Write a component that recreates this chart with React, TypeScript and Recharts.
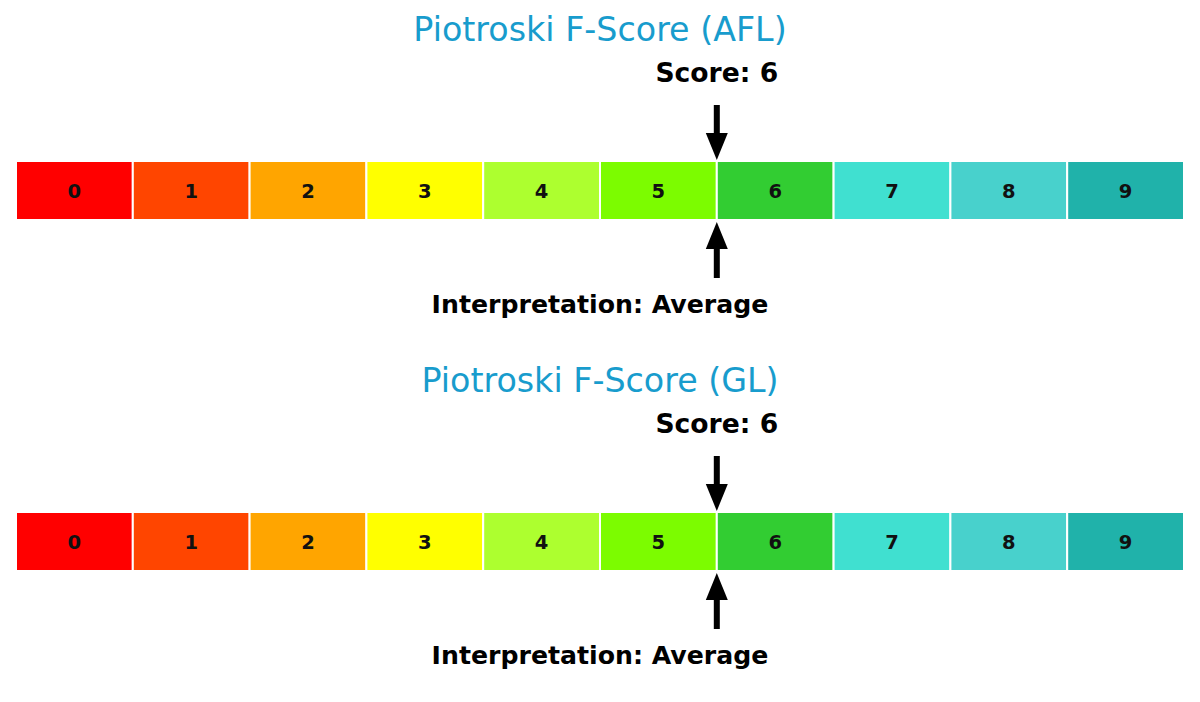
import React from 'react';
import { BarChart, Bar, XAxis, YAxis, ReferenceLine, LabelList } from 'recharts';

// --- Data ---
const scoreLabels = ['0', '1', '2', '3', '4', '5', '6', '7', '8', '9'];
const scoreColors = [
  '#FF0000', '#FF4500', '#FFA500', '#FFFF00', '#ADFF2F',
  '#7CFC00', '#32CD32', '#40E0D0', '#48D1CC', '#20B2AA',
];
const tickers = ['AFL', 'GL'];
const tickerScores = [6, 6];
const interpretations = ['Average', 'Average'];

const FONT = '"DejaVu Sans", Verdana, sans-serif';
const W = 1200;
const H = 351;

// one row, each cell one unit wide
const row = [scoreLabels.reduce((acc, _, i) => ({ ...acc, [`s${i}`]: 1 }), { name: 'F' } as Record<string, any>)];

// --- Cell label (digit centred in its block) ---
const CellLabel = (lbl: string) => (p: any) => {
  const { x, y, width, height } = p.viewBox || p;
  return (
    <text x={x + width / 2} y={y + height / 2} dy="0.36em" textAnchor="middle"
      fontFamily={FONT} fontSize={19.5} fontWeight="bold" fill="#111">
      {lbl}
    </text>
  );
};

// --- Marker: arrows + texts placed from the reference line ---
const Marker = ({ x1, y1, y2, ticker, score, interp }: any) => {
  const x = x1;
  const top = Math.min(y1, y2);
  const bot = Math.max(y1, y2);
  return (
    <g>
      <text x={W / 2} y={top - 120} textAnchor="middle" fontFamily={FONT} fontSize={33.3} fill="#189ccd">
        {`Piotroski F-Score (${ticker})`}
      </text>
      <text x={x} y={top - 79} textAnchor="middle" fontFamily={FONT} fontSize={26.6} fontWeight="bold" fill="#000">
        {`Score: ${score}`}
      </text>
      {/* down arrow */}
      <rect x={x - 3} y={top - 56} width={6} height={30} fill="#000" />
      <polygon points={`${x - 11},${top - 28} ${x + 11},${top - 28} ${x},${top - 1}`} fill="#000" />
      {/* up arrow */}
      <polygon points={`${x - 11},${bot + 29} ${x + 11},${bot + 29} ${x},${bot + 2}`} fill="#000" />
      <rect x={x - 3} y={bot + 27} width={6} height={31} fill="#000" />
      <text x={W / 2} y={bot + 93} textAnchor="middle" fontFamily={FONT} fontSize={25.2} fontWeight="bold" fill="#000">
        {`Interpretation: ${interp}`}
      </text>
    </g>
  );
};

const ScorePanel = ({ idx }: { idx: number }) => (
  <BarChart
    width={W}
    height={H}
    data={row}
    layout="vertical"
    margin={{ top: 161, right: 16, bottom: H - 220, left: 16 }}
    barCategoryGap={0}
  >
    <XAxis type="number" domain={[0, 10]} hide />
    <YAxis type="category" dataKey="name" hide />
    {scoreLabels.map((lbl, i) => (
      <Bar
        key={i}
        dataKey={`s${i}`}
        stackId="f"
        fill={scoreColors[i]}
        stroke="#fff"
        strokeWidth={2}
        isAnimationActive={false}
      >
        <LabelList dataKey={`s${i}`} content={CellLabel(lbl)} />
      </Bar>
    ))}
    <ReferenceLine
      x={tickerScores[idx]}
      stroke="none"
      shape={(p: any) => (
        <Marker {...p} ticker={tickers[idx]} score={tickerScores[idx]} interp={interpretations[idx]} />
      )}
    />
  </BarChart>
);

export default function App() {
  return (
    <div style={{ position: 'absolute', left: 0, top: 0, width: W, height: 702, background: '#fff' }}>
      {tickers.map((t, i) => (
        <ScorePanel key={t} idx={i} />
      ))}
    </div>
  );
}
